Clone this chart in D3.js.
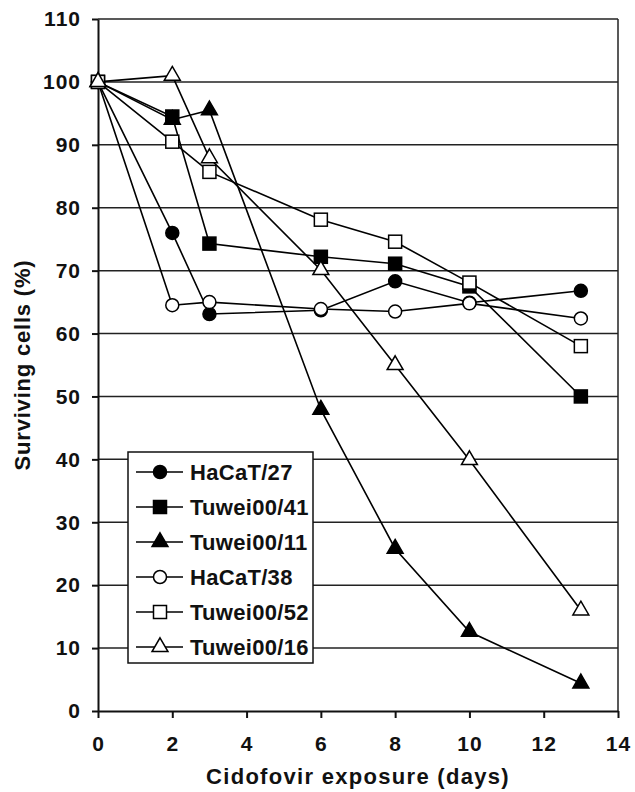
<!DOCTYPE html>
<html>
<head>
<meta charset="utf-8">
<script src="https://cdn.jsdelivr.net/npm/d3@7"></script>
<style>
  body { margin: 0; background: #fff; }
  text { font-family: "Liberation Sans", Arial, sans-serif; font-weight: bold; fill: #111; }
</style>
</head>
<body>
<svg id="chart"></svg>
<script>
// days of exposure
const days = [0, 2, 3, 6, 8, 10, 13];

// surviving cells (%) per cell line
const hacat27 = [100, 76.0, 63.1, 63.7, 68.3, 64.9, 66.8];
const tuwei41 = [100, 94.5, 74.3, 72.2, 71.1, 67.5, 50.0];
const tuwei11 = [100, 94.0, 95.5, 47.9, 25.8, 12.6, 4.4];
const hacat38 = [100, 64.5, 65.0, 63.9, 63.5, 64.8, 62.4];
const tuwei52 = [100, 90.5, 85.7, 78.1, 74.6, 68.1, 58.0];
const tuwei16 = [100, 101.0, 87.9, 70.1, 55.0, 39.9, 16.0];

const seriesNames = ["HaCaT/27", "Tuwei00/41", "Tuwei00/11", "HaCaT/38", "Tuwei00/52", "Tuwei00/16"];
const seriesValues = [hacat27, tuwei41, tuwei11, hacat38, tuwei52, tuwei16];
const seriesShapes = ["circle", "square", "triangle", "circle", "square", "triangle"];
const seriesFilled = [true, true, true, false, false, false];

const xTicks = [0, 2, 4, 6, 8, 10, 12, 14];
const yTicks = [0, 10, 20, 30, 40, 50, 60, 70, 80, 90, 100, 110];

const width = 635, height = 792;
const marginLeft = 98, marginRight = 17, marginTop = 19, marginBottom = 81;

const svg = d3.select("#chart")
    .attr("width", width)
    .attr("height", height)
    .attr("viewBox", [0, 0, width, height]);

const x = d3.scaleLinear([0, 14], [marginLeft, width - marginRight]);
const y = d3.scaleLinear([0, 110], [height - marginBottom, marginTop]);

// horizontal grid lines
svg.append("g")
    .selectAll("line")
    .data(yTicks.filter(d => d > 0))
    .join("line")
    .attr("x1", x(0)).attr("x2", x(14))
    .attr("y1", d => y(d)).attr("y2", d => y(d))
    .attr("stroke", "#222").attr("stroke-width", 1.5);

// right border
svg.append("line")
    .attr("x1", x(14)).attr("x2", x(14))
    .attr("y1", y(110)).attr("y2", y(0))
    .attr("stroke", "#222").attr("stroke-width", 1.5);

const yAxis = d3.axisLeft(y).tickValues(yTicks).tickSize(6).tickPadding(11).tickSizeOuter(0);
const xAxis = d3.axisBottom(x).tickValues(xTicks).tickSize(7).tickPadding(18).tickSizeOuter(0);

svg.append("g")
    .attr("transform", `translate(${marginLeft},0)`)
    .call(yAxis)
    .call(g => g.selectAll("path, line").attr("stroke", "#111").attr("stroke-width", 2))
    .call(g => g.selectAll("text").attr("font-size", 21).attr("letter-spacing", 1)
        .attr("font-family", null).attr("fill", null));

svg.append("g")
    .attr("transform", `translate(0,${height - marginBottom})`)
    .call(xAxis)
    .call(g => g.selectAll("path, line").attr("stroke", "#111").attr("stroke-width", 2))
    .call(g => g.selectAll("text").attr("font-size", 21).attr("letter-spacing", 1)
        .attr("font-family", null).attr("fill", null));

// axis titles
svg.append("text")
    .attr("x", (x(0) + x(14)) / 2)
    .attr("y", 784)
    .attr("text-anchor", "middle")
    .attr("font-size", 22)
    .attr("letter-spacing", 1.3)
    .text("Cidofovir exposure (days)");

svg.append("text")
    .attr("transform", `translate(30,${(y(110) + y(0)) / 2}) rotate(-90)`)
    .attr("text-anchor", "middle")
    .attr("font-size", 22)
    .attr("letter-spacing", 0.8)
    .text("Surviving cells (%)");

// marker drawing
function drawMarker(g, shape, filled) {
    const fill = filled ? "#000" : "#fff";
    if (shape === "circle") {
        g.append("circle").attr("r", 6.5);
    } else if (shape === "square") {
        g.append("rect").attr("x", -6.5).attr("y", -6.5).attr("width", 13).attr("height", 13);
    } else {
        g.append("path").attr("d", d3.symbol(d3.symbolTriangle, 110)());
    }
    g.selectAll("*").attr("fill", fill).attr("stroke", "#000").attr("stroke-width", 1.5);
}

const line = d3.line()
    .x((d, i) => x(days[i]))
    .y(d => y(d));

seriesValues.forEach((vals, k) => {
    svg.append("path")
        .attr("fill", "none")
        .attr("stroke", "#000")
        .attr("stroke-width", 1.6)
        .attr("d", line(vals));
});

// filled triangles underneath, so the square at day 2 covers it
[2, 0, 1, 3, 4, 5].forEach(k => {
    seriesValues[k].forEach((v, i) => {
        const g = svg.append("g").attr("transform", `translate(${x(days[i])},${y(v)})`);
        drawMarker(g, seriesShapes[k], seriesFilled[k]);
    });
});

// legend
const legend = svg.append("g").attr("transform", "translate(128,452)");
legend.append("rect")
    .attr("width", 185).attr("height", 211)
    .attr("fill", "#fff").attr("stroke", "#111").attr("stroke-width", 1.5);

seriesNames.forEach((name, k) => {
    const row = legend.append("g").attr("transform", `translate(0,${20 + k * 35})`);
    row.append("line")
        .attr("x1", 8).attr("x2", 55)
        .attr("stroke", "#000").attr("stroke-width", 1.6);
    drawMarker(row.append("g").attr("transform", "translate(32,0)"), seriesShapes[k], seriesFilled[k]);
    row.append("text")
        .attr("x", 62).attr("y", 8)
        .attr("font-size", 22)
        .attr("letter-spacing", 0.3)
        .text(name);
});
</script>
</body>
</html>
